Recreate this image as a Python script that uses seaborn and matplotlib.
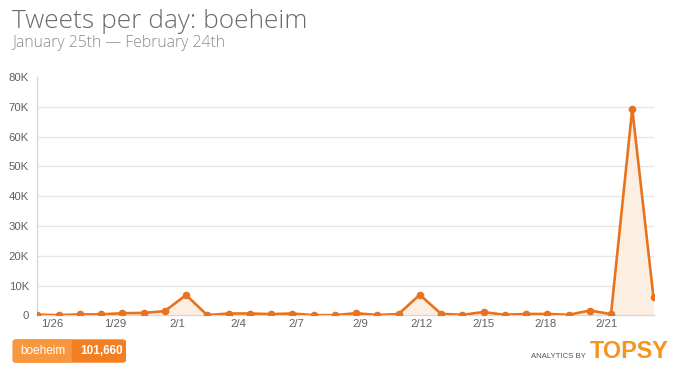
import matplotlib
matplotlib.use('Agg')
import matplotlib.pyplot as plt
import seaborn as sns
import pandas as pd
from matplotlib.patches import FancyBboxPatch

# ---- data ----
day_index = list(range(30))
tweets = [200, 50, 300, 300, 700, 800, 1400, 6800, 50, 600,
          600, 400, 600, 50, 50, 700, 100, 400, 6900, 500,
          150, 1100, 150, 450, 450, 150, 1600, 400, 69300, 6040]
xtick_pos = [0.69, 3.69, 6.57, 9.44, 12.2, 15.2, 18.09, 21.0, 23.9, 26.78]
xtick_labels = ['1/26', '1/29', '2/1', '2/4', '2/7', '2/9', '2/12', '2/15', '2/18', '2/21']
ytick_vals = [0, 10000, 20000, 30000, 40000, 50000, 60000, 70000, 80000]
ytick_labels = ['0', '10K', '20K', '30K', '40K', '50K', '60K', '70K', '80K']
title = 'Tweets per day: boeheim'
subtitle = 'January 25th \u2014 February 24th'
term = 'boeheim'
total = '101,660'

df = pd.DataFrame({'day': day_index, 'tweets': tweets})

sns.set_theme(style='white')
plt.rcParams['font.family'] = ['Liberation Sans', 'DejaVu Sans']

W, H = 680, 377
fig = plt.figure(figsize=(W / 100, H / 100), dpi=100)
fig.patch.set_facecolor('white')

left, right, top, bottom = 37.3, 653.5, 77, 315.3
ax = fig.add_axes([left / W, 1 - bottom / H, (right - left) / W, (bottom - top) / H])

line_c = '#e8731e'
ax.fill_between(df['day'], df['tweets'], 0, color='#fdeee2', zorder=1, linewidth=0)
sns.lineplot(data=df, x='day', y='tweets', ax=ax, color=line_c, linewidth=1.9,
             marker='o', markersize=5.5, markeredgewidth=0, zorder=3)

ax.set_xlim(0, 29)
ax.set_ylim(0, 80000)
ax.set_yticks(ytick_vals)
ax.set_yticklabels(ytick_labels)
ax.set_xticks(xtick_pos)
ax.set_xticklabels(xtick_labels)
ax.set_xlabel('')
ax.set_ylabel('')
ax.tick_params(axis='both', length=0, labelsize=8.2, labelcolor='#606060')
ax.tick_params(axis='y', pad=6)
ax.tick_params(axis='x', pad=3)

ax.yaxis.grid(True, color='#e6e6e6', linewidth=1)
ax.set_axisbelow(True)
for gl in ax.get_ygridlines()[-1:]:
    gl.set_visible(False)
for s in ['top', 'right']:
    ax.spines[s].set_visible(False)
ax.spines['left'].set_color('#d8d8d8')
ax.spines['bottom'].set_color('#d8d8d8')
ax.spines['left'].set_linewidth(1)
ax.spines['bottom'].set_linewidth(1)

# ---- titles ----
fig.text(12 / W, 1 - 28.5 / H, title, fontsize=18.9, color='#6a6a6a',
         family=['Open Sans', 'DejaVu Sans'], fontweight='light', va='baseline', ha='left')
fig.text(12.5 / W, 1 - 47 / H, subtitle, fontsize=11.3, color='#8a8a8a',
         family=['Open Sans', 'DejaVu Sans'], fontweight='light', va='baseline', ha='left')

# ---- legend badge ----
bx0, bx1, bsplit, by0, by1 = 12.7, 126, 71.7, 339.3, 362.7
badge = FancyBboxPatch((bx0 / W, 1 - by1 / H), (bx1 - bx0) / W, (by1 - by0) / H,
                       boxstyle='round,pad=0,rounding_size=0.006', transform=fig.transFigure,
                       facecolor='#f37f20', edgecolor='none')
fig.patches.append(badge)
badge_l = FancyBboxPatch((bx0 / W, 1 - by1 / H), (bsplit - bx0) / W, (by1 - by0) / H,
                         boxstyle='round,pad=0,rounding_size=0.006', transform=fig.transFigure,
                         facecolor='#f7983f', edgecolor='none')
fig.patches.append(badge_l)
fig.text(20.5 / W, 1 - 351 / H, term, fontsize=8.5, color='white', va='center', ha='left')
fig.text(80 / W, 1 - 351 / H, total, fontsize=8.5, color='white', fontweight='bold',
         va='center', ha='left')

# ---- branding ----
fig.text(586 / W, 1 - 358 / H, 'ANALYTICS BY', fontsize=5.6, color='#555555',
         va='baseline', ha='right')
fig.text(590 / W, 1 - 358 / H, 'TOPSY', fontsize=16.8, color='#f7931e', fontweight='bold',
         va='baseline', ha='left', family=['Liberation Sans'])

fig.savefig('out.png', dpi=100, facecolor='white')
